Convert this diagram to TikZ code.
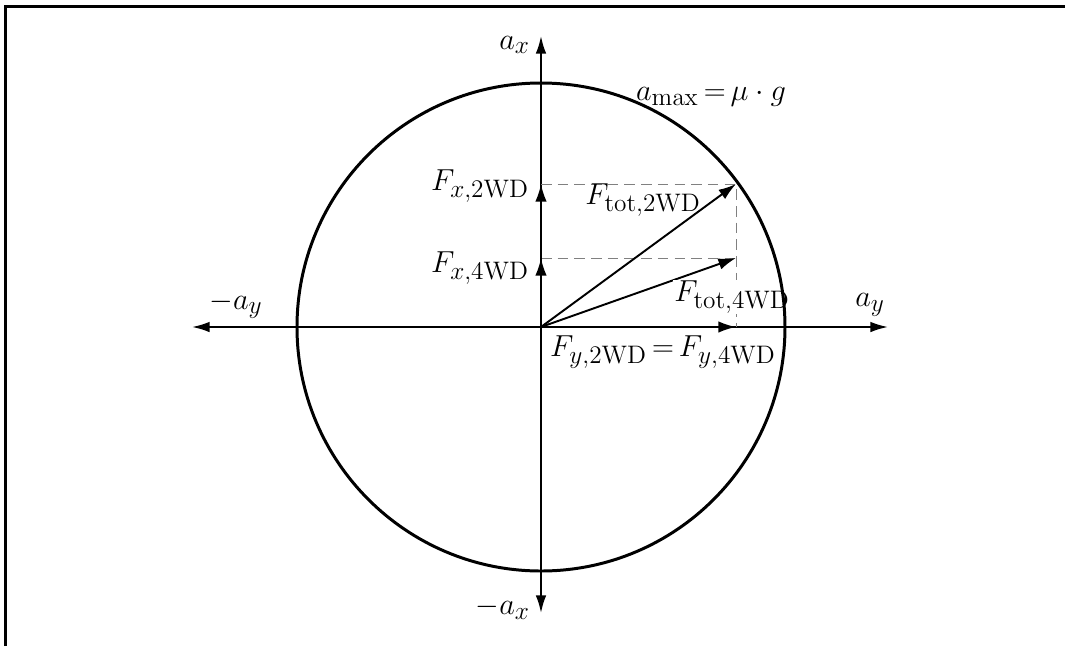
\documentclass[tikz,border=0pt]{standalone}
\usepackage{amsmath}
\usetikzlibrary{arrows.meta}
\DeclareMathSizes{17.28}{17.28}{14.4}{10}

\begin{document}
\begin{tikzpicture}[
    axis/.style={line width=1.1pt, -{Latex[length=10pt,width=6pt]}},
    vec/.style={line width=1.1pt, -{Latex[length=10pt,width=6.5pt]}},
    helpline/.style={gray, line width=0.5pt, dash pattern=on 6pt off 3.5pt},
    lbl/.style={font=\LARGE, inner sep=1pt}
]
    \useasboundingbox (-10.82,-6.38) rectangle (10.48,6.54);
    % frame, only top and left edge visible
    \draw[line width=1.3pt] (-10.71,-6.38) -- (-10.71,6.41) -- (10.48,6.41);

    % points
    \coordinate (O) at (0,0);
    \coordinate (top) at (0,5.82);
    \coordinate (bot) at (0,-5.72);
    \coordinate (lft) at (-6.98,0);
    \coordinate (rgt) at (6.94,0);
    \coordinate (T2) at (3.9,2.86);
    \coordinate (T4) at (3.9,1.38);
    \coordinate (Y) at (3.9,0);
    \coordinate (X2) at (0,2.86);
    \coordinate (X4) at (0,1.38);

    % axes
    \draw[axis] (O) -- (top);
    \draw[axis] (O) -- (bot);
    \draw[axis] (O) -- (lft);
    \draw[axis] (O) -- (rgt);

    % dashed projections
    \draw[helpline] (X2) -- (T2) -- (Y);
    \draw[helpline] (X4) -- (T4);

    % force vectors
    \draw[vec] (O) -- (T2);
    \draw[vec] (O) -- (T4);
    \draw[vec] (O) -- (Y);
    \draw[vec] (O) -- (X2);
    \draw[vec] (O) -- (X4);

    % labels
    \node[lbl, anchor=east] (lax) at (-0.18,5.64) {$a_x$};
    \node[lbl] (lmax) at (3.4,4.6) {$a_{\max}\,{=}\,\mu\cdot g$};
    \node[lbl] (lmay) at (-6.1,0.44) {$-a_y$};
    \node[lbl] (lay) at (6.58,0.44) {$a_y$};
    \node[lbl, anchor=east] (lmax2) at (-0.18,-5.62) {$-a_x$};
    \node[lbl, anchor=east] (lfx2) at (-0.2,2.82) {$F_{x,2\mathrm{WD}}$};
    \node[lbl, anchor=east] (lfx4) at (-0.2,1.18) {$F_{x,4\mathrm{WD}}$};
    \node[lbl] (lt2) at (2.04,2.54) {$F_{\mathrm{tot},2\mathrm{WD}}$};
    \node[lbl, fill=white, inner sep=0.5pt] (lt4) at (3.82,0.6) {$F_{\mathrm{tot},4\mathrm{WD}}$};
    \node[lbl] (lfy) at (2.44,-0.5) {$F_{y,2\mathrm{WD}}\,{=}\,F_{y,4\mathrm{WD}}$};

    % friction circle, drawn last so the label fill does not cut it
    \draw[line width=1.7pt] (O) circle (4.88);
\end{tikzpicture}
\end{document}
